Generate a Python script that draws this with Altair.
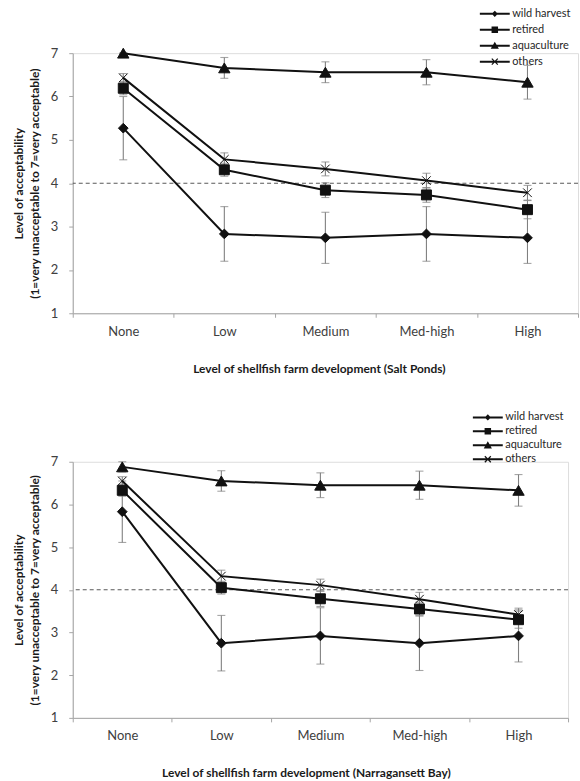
import altair as alt
import pandas as pd

levels = ["None", "Low", "Medium", "Med-high", "High"]
series = ["wild harvest", "retired", "aquaculture", "others"]
y_ticks = [1, 2, 3, 4, 5, 6, 7]
ref_level = [4]

# Salt Ponds
sp_wild = [5.27, 2.83, 2.74, 2.83, 2.74]
sp_wild_err = [0.73, 0.63, 0.59, 0.63, 0.59]
sp_retired = [6.19, 4.31, 3.84, 3.73, 3.39]
sp_retired_err = [0.15, 0.15, 0.17, 0.17, 0.21]
sp_aqua = [7.00, 6.66, 6.56, 6.56, 6.33]
sp_aqua_err = [0.00, 0.24, 0.24, 0.29, 0.39]
sp_others = [6.43, 4.55, 4.33, 4.06, 3.78]
sp_others_err = [0.10, 0.15, 0.16, 0.17, 0.17]

# Narragansett Bay
nb_wild = [5.83, 2.75, 2.92, 2.75, 2.92]
nb_wild_err = [0.72, 0.65, 0.66, 0.64, 0.61]
nb_retired = [6.33, 4.05, 3.79, 3.55, 3.30]
nb_retired_err = [0.14, 0.15, 0.18, 0.16, 0.20]
nb_aqua = [6.88, 6.55, 6.45, 6.45, 6.33]
nb_aqua_err = [0.12, 0.24, 0.29, 0.33, 0.37]
nb_others = [6.55, 4.32, 4.11, 3.78, 3.42]
nb_others_err = [0.10, 0.14, 0.14, 0.16, 0.15]


def make_df(vals, errs):
    rows = []
    for s, v, e in zip(series, vals, errs):
        for lvl, vv, ee in zip(levels, v, e):
            rows.append({"series": s, "level": lvl, "value": vv,
                         "lo": vv - ee, "hi": vv + ee})
    return pd.DataFrame(rows)


df_sp = make_df([sp_wild, sp_retired, sp_aqua, sp_others],
                [sp_wild_err, sp_retired_err, sp_aqua_err, sp_others_err])
df_nb = make_df([nb_wild, nb_retired, nb_aqua, nb_others],
                [nb_wild_err, nb_retired_err, nb_aqua_err, nb_others_err])

FONT = "Lato"
AXIS_GRAY = "#a6a6a6"
ERR_GRAY = "#808080"
INK = "#111111"

# marker style per series
point_shapes = ["diamond", "square", "triangle-up", "M-1,-1L1,1M-1,1L1,-1"]
point_sizes = [95, 100, 130, 75]

# legend symbols: a short line with the series marker in the middle (all filled paths)
LINE = "M-1.2,-0.2L4.8,-0.2L4.8,0.2L-1.2,0.2Z"
legend_paths = [
    LINE + "M1.8,-0.62L2.42,0L1.8,0.62L1.18,0Z",
    LINE + "M1.15,-0.65L2.45,-0.65L2.45,0.65L1.15,0.65Z",
    LINE + "M1.8,-0.8L2.62,0.62L0.98,0.62Z",
    LINE + "M1.285,-0.685L2.485,0.515L2.315,0.685L1.115,-0.515Z"
         + "M1.115,0.515L2.315,-0.685L2.485,-0.515L1.285,0.685Z",
]

y_title = ["Level of acceptability", "(1=very unacceptable to 7=very acceptable)"]


def panel(df, width, height, xtitle, title_x, legend_x, legend_y, row_pad):
    xenc = alt.X(
        "level:N",
        sort=levels,
        scale=alt.Scale(type="band", domain=levels, paddingInner=0, paddingOuter=0),
        axis=alt.Axis(
            title=xtitle, labelAngle=0, tickBand="extent", tickSize=4,
            tickColor=AXIS_GRAY, domainColor=AXIS_GRAY, labelFont=FONT,
            labelFontSize=13, labelColor="#404040", labelPadding=8,
            titleFont=FONT, titleFontSize=12, titleFontWeight="bold",
            titleColor="#1a1a1a", titlePadding=25, titleX=title_x, grid=False,
        ),
    )
    yscale = alt.Scale(domain=[1, 7], nice=False, zero=False)
    yaxis = alt.Axis(
        values=y_ticks, title=y_title, titleFont=FONT, titleFontSize=12,
        titleFontWeight="bold", titleColor="#1a1a1a", titleLineHeight=16,
        titlePadding=9, labelFont=FONT, labelFontSize=13, labelColor="#404040",
        labelPadding=11, tickSize=4, tickColor=AXIS_GRAY, domainColor=AXIS_GRAY,
        grid=False,
    )
    base = alt.Chart(df)
    err = base.mark_rule(color=ERR_GRAY, strokeWidth=1.1).encode(
        x=xenc, y=alt.Y("lo:Q", scale=yscale, axis=yaxis), y2="hi:Q")
    cap_lo = base.mark_tick(color=ERR_GRAY, size=8, thickness=1.1, orient="horizontal").encode(
        x=xenc, y=alt.Y("lo:Q", scale=yscale))
    cap_hi = base.mark_tick(color=ERR_GRAY, size=8, thickness=1.1, orient="horizontal").encode(
        x=xenc, y=alt.Y("hi:Q", scale=yscale))
    ref = alt.Chart(pd.DataFrame({"ref": ref_level})).mark_rule(
        color="#595959", strokeDash=[4, 3], strokeWidth=1.1).encode(
        y=alt.Y("ref:Q", scale=yscale))
    line = base.mark_line(color=INK, strokeWidth=2).encode(
        x=xenc, y=alt.Y("value:Q", scale=yscale), detail="series:N")
    layers = [err, cap_lo, cap_hi, ref, line]
    for s, shp, sz in zip(series, point_shapes, point_sizes):
        layers.append(
            base.transform_filter(alt.datum.series == s).mark_point(
                filled=True, color=INK, stroke=INK, strokeWidth=1, opacity=1,
                shape=shp, size=sz,
            ).encode(x=xenc, y=alt.Y("value:Q", scale=yscale))
        )
    leg = base.transform_filter("false").mark_point(
        filled=True, color=INK, opacity=1).encode(
        x=xenc, y=alt.Y("value:Q", scale=yscale),
        shape=alt.Shape(
            "series:N",
            scale=alt.Scale(domain=series, range=legend_paths),
            legend=alt.Legend(
                title=None, orient="none", legendX=legend_x, legendY=legend_y,
                symbolSize=100, symbolFillColor=INK, symbolStrokeWidth=0,
                symbolOpacity=1, labelFont=FONT, labelFontSize=11,
                labelColor="#262626", labelOffset=21, rowPadding=row_pad,
                padding=0,
            ),
        ),
    )
    layers.append(leg)
    return alt.layer(*layers).properties(width=width, height=height)


top = panel(df_sp, 507, 261, "Level of shellfish farm development (Salt Ponds)",
            247, 409, -45, 4)
bottom = panel(df_nb, 497, 257, "Level of shellfish farm development (Narragansett Bay)",
               234, 402, -50, 2)

chart = alt.vconcat(top, bottom, spacing=36).resolve_scale(
    shape="independent"
).resolve_legend(shape="independent").properties(
    padding={"left": 11, "top": 6, "right": 0, "bottom": 0}
).configure_view(stroke=None).configure(background="white")

chart.save("out.html", embed_options={"renderer": "svg", "actions": False})
